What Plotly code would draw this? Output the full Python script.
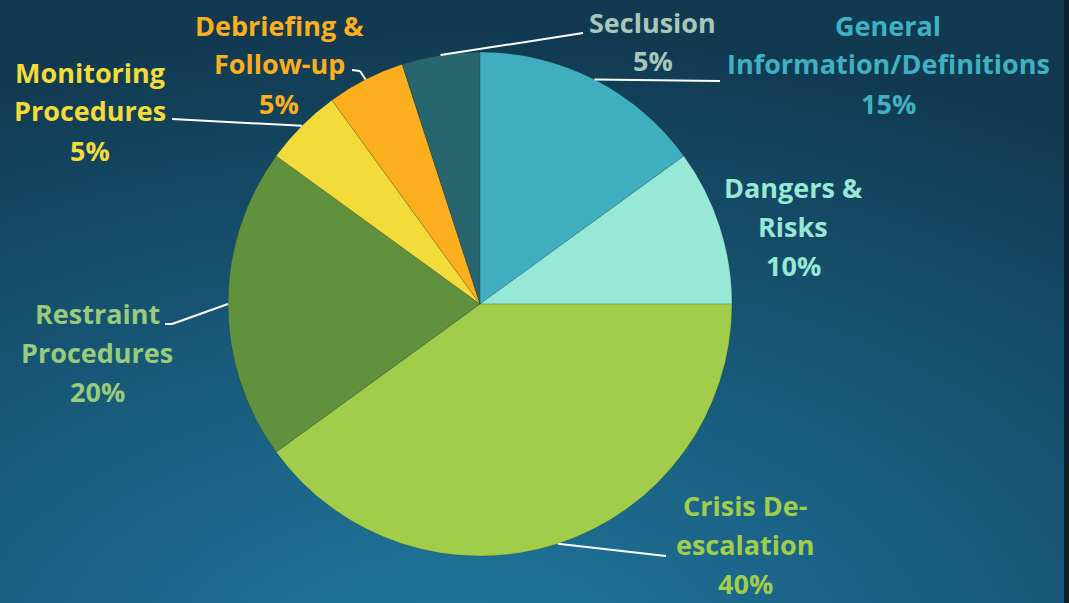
import base64
import math
import plotly.graph_objects as go

W, H = 1069, 603

categories = ['General Information/Definitions', 'Dangers & Risks', 'Crisis De-escalation',
              'Restraint Procedures', 'Monitoring Procedures', 'Debriefing & Follow-up', 'Seclusion']
values = [15, 10, 40, 20, 5, 5, 5]
label_lines = [['General', 'Information/Definitions'], ['Dangers &', 'Risks'],
               ['Crisis De-', 'escalation'], ['Restraint', 'Procedures'],
               ['Monitoring', 'Procedures'], ['Debriefing &', 'Follow-up'], ['Seclusion']]
slice_colors = ['#3FAFC0', '#98E8D6', '#A2CD4B', '#62913D', '#F3DC3A', '#FBAE1E', '#27666F']
text_colors = ['#3FB1C3', '#98E8D6', '#A2CD4B', '#98CB7A', '#F3DC3A', '#FBAE1E', '#A9C6BC']

# layout (pixels)
cx, cy, R = 480, 304, 252
label_pos = [(888, 25), (793, 187), (745, 505), (97, 313), (90, 72), (279, 25), (653, 22)]
line_gap = 39
# leader line points after the anchor on the pie edge
leaders = [[(720, 81)], [], [(666, 556)], [(172, 324), (165, 324)],
           [(172, 119)], [(360, 71), (352, 70)], [(583, 33)]]


def px(x, y):
    return x / W, 1 - y / H


svg = f'''<svg xmlns="http://www.w3.org/2000/svg" width="{W}" height="{H}">
<defs><radialGradient id="g" cx="0.42" cy="1.1" r="1.05">
<stop offset="0" stop-color="#2079A0"/><stop offset="0.45" stop-color="#195E80"/>
<stop offset="1" stop-color="#113A51"/></radialGradient></defs>
<rect width="{W}" height="{H}" fill="url(#g)"/></svg>'''
bg = 'data:image/svg+xml;base64,' + base64.b64encode(svg.encode()).decode()

fig = go.Figure()
x0, y1 = px(cx - R, cy - R)
x1, y0 = px(cx + R, cy + R)
fig.add_trace(go.Pie(
    labels=categories, values=values, sort=False, direction='clockwise', rotation=0,
    marker=dict(colors=slice_colors, line=dict(color='rgba(0,0,0,0.25)', width=0.6)),
    textinfo='none', hoverinfo='label+percent', showlegend=False,
    domain=dict(x=[x0, x1], y=[y0, y1]),
))

total = sum(values)
cum = 0
for i, v in enumerate(values):
    mid = (cum + v / 2) / total * 2 * math.pi
    cum += v
    ax, ay = cx + R * math.sin(mid), cy - R * math.cos(mid)
    pts = [(ax, ay)] + leaders[i]
    for (xa, ya), (xb, yb) in zip(pts[:-1], pts[1:]):
        pa, pb = px(xa, ya), px(xb, yb)
        fig.add_shape(type='line', xref='paper', yref='paper', x0=pa[0], y0=pa[1],
                      x1=pb[0], y1=pb[1], line=dict(color='white', width=2))
    lines = label_lines[i] + [f'{round(v / total * 100)}%']
    lx, ly = label_pos[i]
    for k, t in enumerate(lines):
        p = px(lx, ly + k * line_gap)
        fig.add_annotation(x=p[0], y=p[1], xref='paper', yref='paper', text=t,
                           showarrow=False, xanchor='center', yanchor='middle',
                           font=dict(family='Open Sans', size=27, weight=700,
                                     color=text_colors[i]))

fig.add_shape(type='rect', xref='paper', yref='paper', x0=1064 / W, x1=1, y0=0, y1=1,
              fillcolor='#0A1F2A', line=dict(width=0), layer='below')

fig.update_layout(
    width=W, height=H, margin=dict(l=0, r=0, t=0, b=0),
    paper_bgcolor='#15455E', plot_bgcolor='rgba(0,0,0,0)',
    images=[dict(source=bg, xref='paper', yref='paper', x=0, y=1, sizex=1, sizey=1,
                 xanchor='left', yanchor='top', sizing='stretch', layer='below')],
)

fig.write_html("out.html", config={'displayModeBar': False},
               post_script="document.body.style.margin='0';")
